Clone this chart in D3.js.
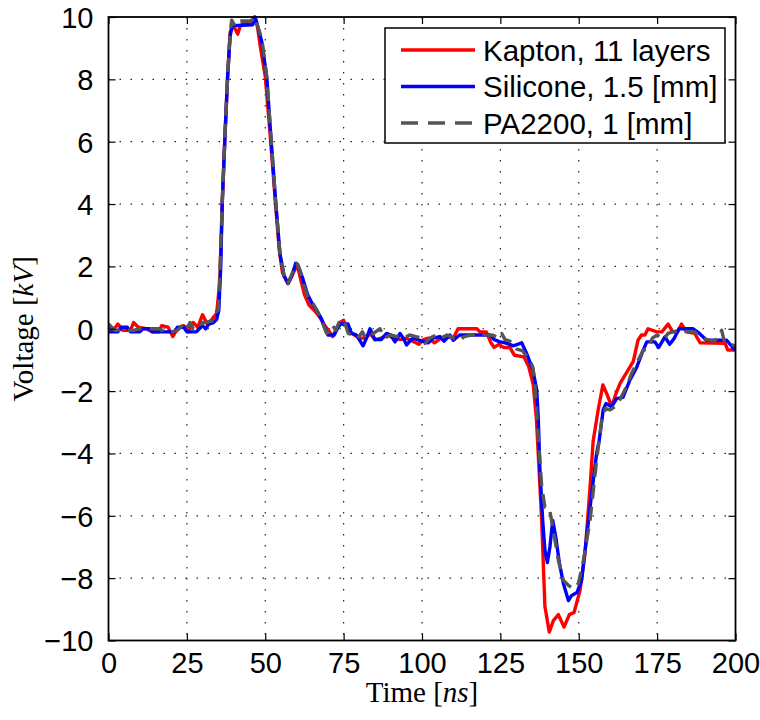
<!DOCTYPE html>
<html lang="en">
<head>
    <meta charset="UTF-8">
    <title>Voltage pulses</title>
    <style>
        body { margin: 0; background: #fff; }
        svg { display: block; }
    </style>
</head>
<body>
    <svg width="760" height="720"></svg>
    <script src="https://d3js.org/d3.v7.min.js"></script>
<script>

// series: time [ns] and voltage [kV]
const kaptonT = [0, 1.5, 3, 4.5, 7, 8, 9.5, 12, 14, 16, 17, 19, 20.5, 22, 24, 25.5, 27, 28.5, 30, 31.5, 33, 34.5, 35.5, 36.3, 37.2, 38, 38.8, 39.5, 40.5, 41.2, 42, 43, 45, 46.5, 47.5, 48.5, 50, 51.5, 53.2, 54.5, 55.5, 57.2, 58.5, 60.2, 61.5, 62.5, 64, 66, 67.5, 69, 70.5, 71.5, 72.5, 73.8, 75, 76, 77, 78.5, 80, 82, 83.5, 85, 87, 89, 91, 93, 95, 97, 99, 100.5, 102, 104, 106, 108, 110, 111.5, 117.5, 118.5, 120.5, 122, 123, 124.5, 126, 128, 129.5, 132.5, 134, 135.5, 136.5, 137.5, 138.2, 139.2, 140.6, 141.9, 143.5, 145.3, 147, 148.5, 150.4, 152, 153.6, 154.6, 156.2, 157.7, 159, 160.5, 161.8, 163.2, 165.3, 167.4, 168.9, 170, 171.1, 172.1, 174.9, 176.5, 178.5, 180, 181.5, 182.8, 184.4, 187, 188.7, 196.7, 197.5, 200];
const kaptonV = [0.1, -0.05, 0.15, -0.05, -0.05, 0.2, 0.05, 0, -0.1, -0.1, 0.1, 0.05, -0.25, 0, 0.1, -0.1, 0.2, 0.05, 0.45, 0.15, 0.3, 0.5, 1.5, 4.1, 6.3, 8.1, 9.5, 9.7, 9.6, 9.45, 9.7, 9.8, 9.8, 10, 9.7, 9, 8.1, 6.3, 4.1, 2.5, 1.8, 1.45, 1.7, 2.05, 1.5, 1.1, 0.75, 0.55, 0.35, 0.1, -0.1, -0.25, -0.05, 0.2, 0.27, 0.05, -0.1, -0.2, -0.3, -0.3, -0.15, -0.35, -0.3, -0.2, -0.3, -0.35, -0.3, -0.4, -0.5, -0.35, -0.3, -0.45, -0.3, -0.25, -0.3, 0, 0, -0.1, -0.1, -0.45, -0.6, -0.5, -0.6, -0.6, -0.85, -0.9, -1.2, -1.8, -2.9, -4.8, -6.2, -8.9, -9.73, -9.36, -9.17, -9.57, -9.17, -9.1, -8.4, -7.2, -5.1, -3.6, -2.6, -1.8, -2.1, -2.5, -2.1, -1.75, -1.4, -1.05, -0.37, -0.2, -0.2, 0, -0.1, -0.1, 0.15, -0.1, -0.1, 0.15, -0.1, -0.15, -0.45, -0.47, -0.68, -0.68];

const siliconeT = [0, 3, 4, 6, 7, 10, 11, 13, 14, 21, 22, 24, 25, 28, 29, 30, 31, 32, 33.5, 34.5, 35.2, 35.8, 36.3, 37.2, 38, 38.8, 39.5, 46, 46.8, 47.6, 48.9, 50.5, 51.7, 53.3, 54.7, 56, 57.3, 58.5, 59.7, 60.4, 62, 63.5, 65, 66.4, 68, 69.5, 70, 72, 73, 74, 76.4, 77.5, 79, 80, 81.2, 82.3, 83.4, 84.3, 85, 87, 88.7, 90, 91.4, 93, 94, 95.1, 96.5, 97.2, 100, 102, 103.5, 105.7, 107, 108.9, 110, 112, 121.7, 123, 124.9, 126.5, 128, 129, 130.5, 131.8, 133.4, 135.4, 136.6, 137.1, 137.6, 138.5, 139.2, 140, 140.8, 141.7, 142.7, 143.8, 145.1, 146.7, 147.7, 149.5, 150.9, 152.5, 154.1, 155.7, 156.5, 157.8, 158.7, 160.5, 162.1, 164.1, 166.3, 168.5, 170.5, 171.7, 174.3, 175.5, 177.5, 179, 180.5, 182, 186.5, 188.5, 190.8, 197.2, 199.5, 200];
const siliconeV = [-0.1, -0.1, 0.05, 0.05, -0.1, -0.1, 0, 0, -0.1, -0.1, 0.05, 0.05, -0.1, -0.1, 0, 0.1, 0, 0.15, 0.2, 0.3, 0.6, 2, 4.1, 6.3, 8.1, 9.4, 9.72, 9.75, 10, 9.7, 9.2, 8.05, 6.3, 4.1, 2.4, 1.7, 1.45, 1.7, 2.1, 2.05, 1.6, 1.1, 0.8, 0.6, 0.3, -0.1, -0.2, -0.2, 0, 0.15, 0.15, -0.15, -0.2, -0.35, -0.55, -0.3, 0, -0.2, -0.35, -0.35, -0.15, -0.2, -0.42, -0.15, -0.3, -0.52, -0.35, -0.3, -0.4, -0.45, -0.3, -0.25, -0.4, -0.2, -0.37, -0.2, -0.2, -0.35, -0.42, -0.45, -0.5, -0.55, -0.5, -0.45, -0.8, -1.33, -1.97, -2.9, -4.5, -6.15, -7.1, -7.5, -7, -6.15, -6.7, -7.5, -8.17, -8.72, -8.56, -8.45, -8.07, -6.7, -5.3, -4, -3.6, -2.6, -2.4, -2.5, -2.24, -2.2, -1.65, -1.23, -0.7, -0.42, -0.42, -0.6, -0.26, -0.5, -0.3, 0, 0, -0.15, -0.37, -0.37, -0.65, -0.65];

const pa2200T = [0, 2, 8, 10, 16, 18, 20, 22, 24, 25, 26, 27, 29, 30, 31, 33, 34, 35, 35.6, 36.3, 37.2, 38, 38.8, 39.3, 40.3, 41.5, 45.5, 46.7, 47.6, 48.9, 50.5, 51.7, 53.3, 54.7, 56, 57.2, 58.5, 60, 61, 62, 63.6, 65, 66.4, 68, 69.6, 70.5, 71.5, 72.5, 73.5, 74.5, 75.5, 76.5, 78, 79.5, 81, 82, 83, 84.5, 86.6, 88, 90, 92, 94, 96, 98, 100, 101, 102.5, 104.7, 106, 108, 110, 112, 113.5, 115.3, 118.5, 120, 122.7, 124.5, 125.4, 126.5, 128, 130.2, 132, 134.4, 135.4, 136, 137.1, 138.2, 139.2, 140.6, 141.9, 143.5, 145.1, 146.7, 148.3, 149.9, 151.5, 153.6, 155.7, 157.3, 158.5, 160, 161.5, 163, 165, 167, 169, 170.5, 172, 173.5, 175, 177, 178.5, 180, 182, 185, 187, 189, 191, 193, 194.5, 195.6, 196.5, 200];
const pa2200V = [0.15, -0.05, -0.05, 0, 0, -0.1, -0.1, -0.05, 0.15, 0, 0.2, 0, 0.05, 0.2, 0.2, 0.25, 0.5, 0.6, 2, 4.1, 6.3, 8.1, 9.5, 9.9, 9.72, 9.87, 9.87, 10, 9.7, 9.3, 8.05, 6.3, 4.1, 2.4, 1.7, 1.45, 1.75, 2.1, 1.9, 1.5, 1, 0.85, 0.6, 0.25, -0.15, -0.1, 0.1, -0.05, 0.2, 0.05, 0.15, -0.15, -0.2, -0.3, -0.1, -0.3, -0.3, -0.15, 0, -0.3, -0.2, -0.25, -0.3, -0.2, -0.25, -0.3, -0.47, -0.3, -0.2, -0.3, -0.2, -0.3, -0.37, -0.25, -0.21, -0.15, -0.2, -0.21, -0.3, -0.15, -0.35, -0.4, -0.65, -0.7, -1, -1.25, -1.76, -3.5, -5.08, -5.72, -5.74, -6.47, -7.43, -8.07, -8.23, -8.34, -8.17, -7.43, -6.15, -4.22, -2.94, -2.55, -2.6, -2.5, -2.3, -1.9, -1.4, -1, -0.7, -0.63, -0.3, -0.2, -0.35, -0.15, -0.1, -0.05, -0.1, -0.1, -0.3, -0.35, -0.4, -0.3, -0.05, -0.45, -0.55];

const seriesNames = ["Kapton, 11 layers", "Silicone, 1.5 [mm]", "PA2200, 1 [mm]"];
const xTicks = [0, 25, 50, 75, 100, 125, 150, 175, 200];
const yTicks = [-10, -8, -6, -4, -2, 0, 2, 4, 6, 8, 10];

const svg = d3.select("svg");
const plotLeft = 108.5, plotRight = 735.5, plotTop = 17, plotBottom = 640.5;

const x = d3.scaleLinear().domain([0, 200]).range([plotLeft, plotRight]);
const y = d3.scaleLinear().domain([-10, 10]).range([plotBottom, plotTop]);

const tickFont = "'Liberation Sans', Arial, sans-serif";
const serif = "'Liberation Serif', 'Times New Roman', serif";

// dotted grid
const grid = svg.append("g");
grid.selectAll(".gx")
    .data(xTicks.slice(1, -1))
    .enter().append("line")
    .attr("x1", d => x(d)).attr("x2", d => x(d))
    .attr("y1", plotTop).attr("y2", plotBottom);
grid.selectAll(".gy")
    .data(yTicks.slice(1, -1))
    .enter().append("line")
    .attr("x1", plotLeft).attr("x2", plotRight)
    .attr("y1", d => y(d)).attr("y2", d => y(d));
grid.selectAll("line")
    .attr("stroke", "#222")
    .attr("stroke-width", 1.2)
    .attr("stroke-dasharray", "1.5,9.5");

// curves
const line = d3.line()
    .x(d => x(d[0]))
    .y(d => y(d[1]));

const zipped = (ts, vs) => ts.map((t, i) => [t, vs[i]]);

const series = [
    { name: seriesNames[0], data: zipped(kaptonT, kaptonV), color: "#ff0000", dash: null },
    { name: seriesNames[1], data: zipped(siliconeT, siliconeV), color: "#0000ff", dash: null },
    { name: seriesNames[2], data: zipped(pa2200T, pa2200V), color: "#555555", dash: "14,8" }
];

const clip = svg.append("defs").append("clipPath").attr("id", "plotclip");
clip.append("rect").attr("x", plotLeft).attr("y", plotTop - 3)
    .attr("width", plotRight - plotLeft).attr("height", plotBottom - plotTop + 6);

svg.append("g").attr("clip-path", "url(#plotclip)")
    .selectAll("path")
    .data(series)
    .enter().append("path")
    .attr("d", d => line(d.data))
    .attr("fill", "none")
    .attr("stroke", d => d.color)
    .attr("stroke-width", 3.4)
    .attr("stroke-linejoin", "round")
    .attr("stroke-dasharray", d => d.dash);

// axes: inward ticks on all four sides
const tickLen = 7;
const xAxisB = d3.axisBottom(x).tickValues(xTicks).tickSize(-tickLen).tickPadding(tickLen + 5);
const xAxisT = d3.axisTop(x).tickValues(xTicks).tickSize(-tickLen).tickFormat("");
const yAxisL = d3.axisLeft(y).tickValues(yTicks).tickSize(-tickLen).tickPadding(tickLen + 8)
    .tickFormat(d => d < 0 ? "\u2212" + Math.abs(d) : d);
const yAxisR = d3.axisRight(y).tickValues(yTicks).tickSize(-tickLen).tickFormat("");

const gb = svg.append("g").attr("transform", `translate(0,${plotBottom})`).call(xAxisB);
const gt = svg.append("g").attr("transform", `translate(0,${plotTop})`).call(xAxisT);
const gl = svg.append("g").attr("transform", `translate(${plotLeft},0)`).call(yAxisL);
const gr = svg.append("g").attr("transform", `translate(${plotRight},0)`).call(yAxisR);

[gb, gt, gl, gr].forEach(g => {
    g.select(".domain").remove();
    g.selectAll(".tick line").attr("stroke", "#000").attr("stroke-width", 1.2);
    g.selectAll("text")
        .attr("fill", "#000")
        .style("font-family", tickFont)
        .style("font-size", "29px");
});
gl.selectAll("text").attr("dy", "0.36em");

// frame
svg.append("rect")
    .attr("x", plotLeft).attr("y", plotTop)
    .attr("width", plotRight - plotLeft).attr("height", plotBottom - plotTop)
    .attr("fill", "none")
    .attr("stroke", "#000")
    .attr("stroke-width", 1.8);

// axis labels
const xl = svg.append("text")
    .attr("x", (plotLeft + plotRight) / 2)
    .attr("y", 702)
    .attr("text-anchor", "middle")
    .style("font-family", serif)
    .style("font-size", "29px");
xl.append("tspan").text("Time ");
xl.append("tspan").text("[");
xl.append("tspan").style("font-style", "italic").text("ns");
xl.append("tspan").text("]");

const yl = svg.append("text")
    .attr("transform", `translate(33,${(plotTop + plotBottom) / 2}) rotate(-90)`)
    .attr("text-anchor", "middle")
    .style("font-family", serif)
    .style("font-size", "29px");
yl.append("tspan").text("Voltage ");
yl.append("tspan").text("[");
yl.append("tspan").style("font-style", "italic").text("kV");
yl.append("tspan").text("]");

// legend
const legend = svg.append("g");
legend.append("rect")
    .attr("x", 385).attr("y", 28)
    .attr("width", 340).attr("height", 115)
    .attr("fill", "#fff")
    .attr("stroke", "#000")
    .attr("stroke-width", 1.5);

const rows = legend.selectAll(".row")
    .data(series)
    .enter().append("g")
    .attr("transform", (d, i) => `translate(0,${50 + i * 36.5})`);

rows.append("line")
    .attr("x1", 401).attr("x2", 475)
    .attr("stroke", d => d.color)
    .attr("stroke-width", 3.4)
    .attr("stroke-dasharray", d => d.dash ? "17,10" : null);

rows.append("text")
    .attr("x", 483)
    .attr("dy", "0.36em")
    .style("font-family", tickFont)
    .style("font-size", "29.5px")
    .text(d => d.name);

</script>
</body>
</html>
